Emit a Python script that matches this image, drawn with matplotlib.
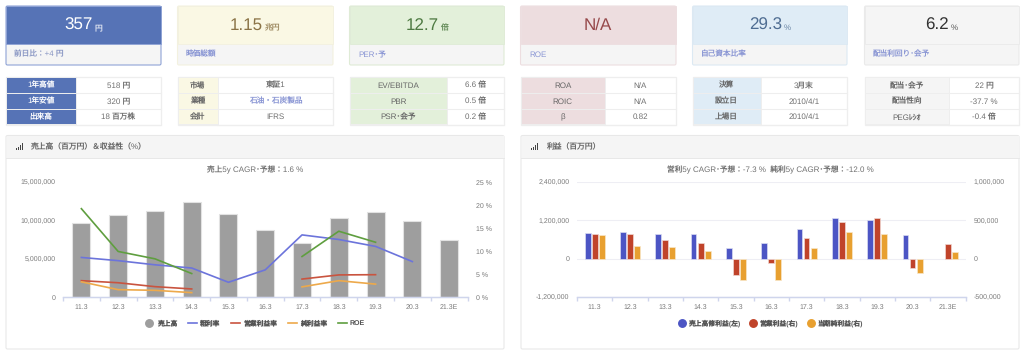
import matplotlib
matplotlib.use("Agg")
import matplotlib.pyplot as plt
import numpy as np
from matplotlib.lines import Line2D
from matplotlib.patches import FancyBboxPatch, Rectangle
from matplotlib.ticker import FuncFormatter

plt.rcParams["font.family"] = ["Liberation Sans", "Noto Sans CJK JP", "DejaVu Sans"]
plt.rcParams["text.hinting"] = "no_hinting"
plt.rcParams["text.hinting_factor"] = 1

W, H = 1024, 355

YEARS = ["11.3", "12.3", "13.3", "14.3", "15.3", "16.3", "17.3", "18.3", "19.3", "20.3", "21.3E"]

# left chart
SALES = [9600000, 10700000, 11170000, 12430000, 10870000, 8700000, 7000000, 10260000, 11130000, 9960000, 7390000]
GROSS = [8.6, 7.9, 7.0, 6.3, 3.2, 5.9, 13.5, 12.5, 11.0, 7.7, np.nan]
OP_MARGIN = [3.55, 3.1, 2.25, 1.75, np.nan, np.nan, 3.9, 4.8, 4.85, np.nan, np.nan]
NET_MARGIN = [3.3, 1.6, 1.45, 0.95, np.nan, np.nan, 2.2, 3.55, 2.8, np.nan, np.nan]
ROE = [19.2, 9.9, 8.3, 5.1, np.nan, np.nan, 8.8, 14.3, 11.9, np.nan, np.nan]

# right chart
PRE_PROFIT = [814000, 824000, 783000, 762000, 334000, 501000, 939000, 1273000, 1210000, 751000, np.nan]
OP_PROFIT = [326000, 317000, 248000, 204000, -217000, -61000, 265000, 483000, 530000, -117000, 191000]
NET_PROFIT = [304000, 161000, 157000, 96000, -283000, -283000, 139000, 352000, 317000, -187000, 83000]

CARD_X = [(6, 161), (177.5, 333), (349.5, 504), (520.5, 676), (692.5, 847), (864.5, 1019)]
CARD_VALUES = ["357", "1.15", "12.7", "N/A", "29.3", "6.2"]
CARD_UNITS = ["円", "兆円", "倍", "", "%", "%"]
CARD_FOOTERS = ["前日比：+4 円", "時価総額", "PER･予", "ROE", "自己資本比率", "配当利回り･会予"]
CARD_FILLS = ["#5673B6", "#FAF8E4", "#E3F0DA", "#EDDDDF", "#DFECF6", "#F5F5F5"]
CARD_INKS = ["#FFFFFF", "#8A7346", "#4E7A42", "#96484A", "#4F6D92", "#333333"]
CARD_EDGES = ["#8FA3D6", "#F3F1DF", "#DFEBD6", "#EDDEE0", "#DCE9F3", "#EAEAEA"]

TABLE_SPLIT = [76, 218, 447, 605, 761, 949]
TABLE_LABELS = [
    ["1年高値", "1年安値", "出来高"],
    ["市場", "業種", "会計"],
    ["EV/EBITDA", "PBR", "PSR･会予"],
    ["ROA", "ROIC", "β"],
    ["決算", "設立日", "上場日"],
    ["配当･会予", "配当性向", "PEGﾚｼｵ"],
]
TABLE_VALUES = [
    ["518 円", "320 円", "18 百万株"],
    ["東証1", "石油・石炭製品", "IFRS"],
    ["6.6 倍", "0.5 倍", "0.2 倍"],
    ["N/A", "N/A", "0.82"],
    ["3月末", "2010/4/1", "2010/4/1"],
    ["22 円", "-37.7 %", "-0.4 倍"],
]
ROW_Y = [77, 93, 108.7, 124.5]

PANEL_X = [(6, 504), (521, 1019)]
PANEL_TITLES = ["売上高（百万円）＆収益性（%）", "利益（百万円）"]
CHART_TITLES = ["売上5y CAGR･予想：1.6 %", "営利5y CAGR･予想：-7.3 %  純利5y CAGR･予想：-12.0 %"]

LINK = "#8A96D4"
BORDER = "#EEEEEE"
AXIS = "#CFD5EC"
TICK_TEXT = "#7A7A7A"


def add_pixel_axes(fig, x0, x1, y_top, y_bottom):
    return fig.add_axes([x0 / W, 1 - y_bottom / H, (x1 - x0) / W, (y_bottom - y_top) / H])


def rounded(ax, x0, y0, x1, y1, face, edge, zorder=1):
    ax.add_patch(FancyBboxPatch((x0, y0), x1 - x0, y1 - y0, boxstyle="round,pad=0,rounding_size=1.5",
                                facecolor=face, edgecolor=edge, linewidth=0.8, zorder=zorder))


def draw_card(ax, i):
    x0, x1 = CARD_X[i]
    rounded(ax, x0, 6, x1, 65, "#F5F5F5", CARD_EDGES[i])
    ax.add_patch(Rectangle((x0, 6), x1 - x0, 37.5, facecolor=CARD_FILLS[i], edgecolor=CARD_EDGES[i], linewidth=0.6, zorder=2))
    ax.text(x0 + 8.5, 56.5, CARD_FOOTERS[i], color=LINK if i else "#8A97C4", fontsize=5.5, va="baseline", zorder=3)

    value = ax.text(0, 30, CARD_VALUES[i], color=CARD_INKS[i], fontsize=12.4, ha="left", va="baseline", zorder=3)
    unit = ax.text(0, 30, CARD_UNITS[i], color=CARD_INKS[i], fontsize=5.6, alpha=0.8, ha="left", va="baseline", zorder=3)
    renderer = ax.figure.canvas.get_renderer()
    value_w = value.get_window_extent(renderer).width
    unit_w = unit.get_window_extent(renderer).width if CARD_UNITS[i] else 0
    gap = 2 if CARD_UNITS[i] else 0
    left = (x0 + x1) / 2 - (value_w + gap + unit_w) / 2
    value.set_x(left)
    unit.set_x(left + value_w + gap)


def draw_table(ax, i):
    x0, x1 = CARD_X[i]
    split = TABLE_SPLIT[i]
    label_ink = "#FFFFFF" if i == 0 else "#666666"
    ax.add_patch(Rectangle((x0, 77), x1 - x0, 47.5, facecolor="white", edgecolor=BORDER, linewidth=0.9, zorder=1))
    for row in range(3):
        top, bottom = ROW_Y[row], ROW_Y[row + 1]
        ax.add_patch(Rectangle((x0, top), split - x0, bottom - top, facecolor=CARD_FILLS[i], edgecolor=BORDER, linewidth=0.7, zorder=2))
        ax.plot([split, x1], [bottom, bottom], color=BORDER, lw=0.8, zorder=2)
        baseline = (top + bottom) / 2 + 2.8
        ax.text((x0 + split) / 2, baseline, TABLE_LABELS[i][row], color=label_ink, fontsize=5.5, ha="center", va="baseline", zorder=3)
        value = TABLE_VALUES[i][row]
        color = LINK if value == "石油・石炭製品" else "#707070"
        ax.text((split + x1) / 2, baseline, value, color=color, fontsize=5.5, ha="center", va="baseline", zorder=3)


def draw_panel(ax, i):
    x0, x1 = PANEL_X[i]
    rounded(ax, x0, 135.5, x1, 349, "white", "#E8E8E8")
    ax.add_patch(Rectangle((x0 + 0.5, 136), x1 - x0 - 1, 21.5, facecolor="#F5F5F5", edgecolor="none", zorder=2))
    ax.plot([x0, x1], [157.5, 157.5], color="#E8E8E8", lw=0.7, zorder=3)
    for k, height in enumerate([1.5, 3, 5, 7]):
        ax.add_patch(Rectangle((x0 + 9.5 + k * 2, 149.5 - height), 1.4, height, facecolor="#444444", edgecolor="none", zorder=3))
    ax.text(x0 + 25, 149.5, PANEL_TITLES[i], color="#666666", fontsize=5.6, va="baseline", zorder=3)
    ax.text((255.5, 770)[i], 172.5, CHART_TITLES[i], color="#707070", fontsize=5.5, ha="center", va="baseline", zorder=3)


def style_chart(ax, twin, left_fmt, right_fmt):
    n = len(YEARS)
    ax.set_xlim(-0.5, n - 0.5)
    ax.set_xticks(np.arange(n), YEARS)
    ax.tick_params(axis="x", length=0, labelsize=5.1, labelcolor=TICK_TEXT, pad=5)
    ax.set_xticks(np.arange(n + 1) - 0.5, minor=True)
    ax.tick_params(axis="x", which="minor", length=3.2, color=AXIS, width=1.0)
    for a in (ax, twin):
        a.patch.set_visible(False)
        for spine in a.spines.values():
            spine.set_visible(False)
        a.spines["bottom"].set_visible(True)
        a.spines["bottom"].set_color(AXIS)
        a.spines["bottom"].set_linewidth(0.9)
    ax.tick_params(axis="y", length=0, labelsize=5.1, labelcolor=TICK_TEXT, pad=5.5)
    twin.tick_params(axis="y", length=0, labelsize=5.1, labelcolor=TICK_TEXT, pad=6)
    ax.yaxis.set_major_formatter(FuncFormatter(left_fmt))
    twin.yaxis.set_major_formatter(FuncFormatter(right_fmt))


def comma(v, _pos=None):
    return f"{int(v):,}"


def percent(v, _pos=None):
    return f"{int(v)} %"


def draw_left_chart(fig):
    ax = add_pixel_axes(fig, 63, 467.5, 182, 297)
    twin = ax.twinx()
    x = np.arange(len(YEARS))
    ax.bar(x, SALES, width=0.49, color="#9E9E9E", edgecolor="#E2E2E2", linewidth=0.8, zorder=2)
    ax.set_ylim(0, 15000000)
    ax.set_yticks([0, 5000000, 10000000, 15000000])
    twin.set_ylim(0, 25)
    twin.set_yticks([0, 5, 10, 15, 20, 25])
    series = [(GROSS, "#6C74DB", "粗利率"), (OP_MARGIN, "#C9543F", "営業利益率"),
              (NET_MARGIN, "#EDA94B", "純利益率"), (ROE, "#5F9E3F", "ROE")]
    handles = [Line2D([], [], linestyle="none", marker="o", markersize=5.4, color="#9E9E9E", label="売上高")]
    for values, color, label in series:
        line, = twin.plot(x, values, color=color, lw=1.2, label=label, zorder=4)
        handles.append(line)
    style_chart(ax, twin, comma, percent)
    fig.legend(handles=handles, loc="center", bbox_to_anchor=(255 / W, 1 - 323.5 / H), ncol=5, frameon=False,
               labelcolor="#555555", columnspacing=1.6, handlelength=1.3, handletextpad=0.45,
               prop={"size": 4.9, "weight": "bold"})


def draw_right_chart(fig):
    ax = add_pixel_axes(fig, 577, 965.5, 182, 297)
    twin = ax.twinx()
    x = np.arange(len(YEARS))
    width = 0.165
    offset = 0.2
    ax.bar(x - offset, PRE_PROFIT, width=width, color="#4C55C4", edgecolor="#DADCF2", linewidth=0.5, zorder=3)
    twin.bar(x, OP_PROFIT, width=width, color="#C0432A", edgecolor="#F0D8D2", linewidth=0.5, zorder=3)
    twin.bar(x + offset, NET_PROFIT, width=width, color="#E8A030", edgecolor="#F8E6C8", linewidth=0.5, zorder=3)
    ax.set_ylim(-1200000, 2400000)
    ax.set_yticks([-1200000, 0, 1200000, 2400000])
    ax.grid(axis="y", color="#EEEEF4", lw=0.8, zorder=0)
    twin.set_ylim(-500000, 1000000)
    twin.set_yticks([-500000, 0, 500000, 1000000])
    style_chart(ax, twin, comma, comma)
    handles = [Line2D([], [], linestyle="none", marker="o", markersize=5.4, color=c, label=l)
               for c, l in [("#4C55C4", "売上高修利益(左)"), ("#C0432A", "営業利益(右)"), ("#E8A030", "当期純利益(右)")]]
    fig.legend(handles=handles, loc="center", bbox_to_anchor=(770 / W, 1 - 323.5 / H), ncol=3, frameon=False,
               labelcolor="#555555", columnspacing=1.2, handlelength=1.3, handletextpad=0.3,
               prop={"size": 4.9, "weight": "bold"})


def main():
    fig = plt.figure(figsize=(W / 100, H / 100), dpi=100, facecolor="white")
    page = fig.add_axes([0, 0, 1, 1])
    page.set_xlim(0, W)
    page.set_ylim(H, 0)
    page.axis("off")
    fig.canvas.draw()
    for i in range(6):
        draw_card(page, i)
        draw_table(page, i)
    for i in range(2):
        draw_panel(page, i)
    draw_left_chart(fig)
    draw_right_chart(fig)
    fig.savefig("out.png", dpi=100, facecolor="white")
    plt.close(fig)


if __name__ == "__main__":
    main()
